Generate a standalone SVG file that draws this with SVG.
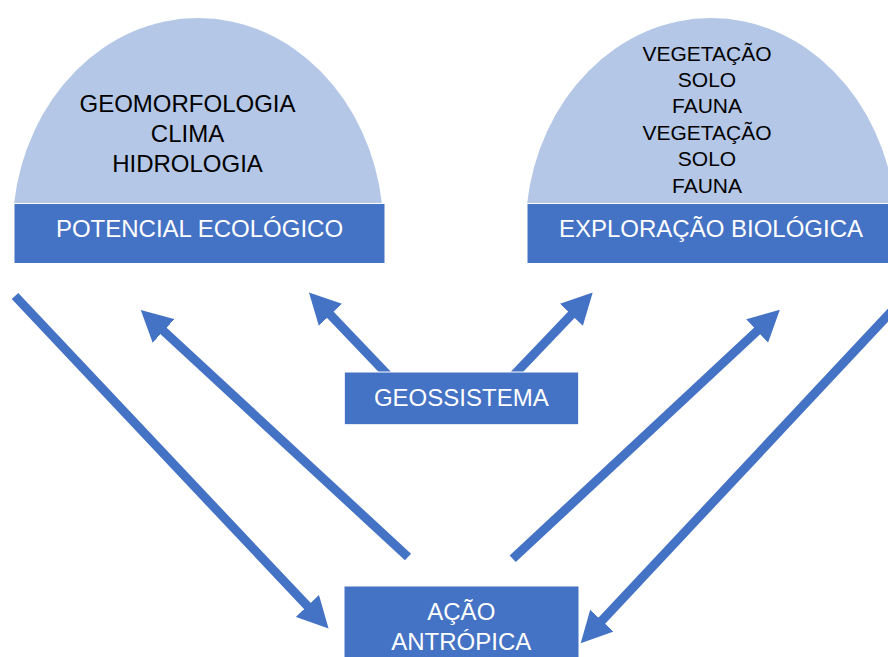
<svg xmlns="http://www.w3.org/2000/svg" width="888" height="657" viewBox="0 0 888 657">
<style>
  .dome { fill: #B4C7E7; }
  .box { fill: #4472C4; stroke: #FFFFFF; stroke-width: 1; }
  .dtxt { font-family: "Liberation Sans", Arial, sans-serif; font-size: 24px; fill: #000000; text-anchor: middle; }
  .dtxt2 { font-family: "Liberation Sans", Arial, sans-serif; font-size: 21px; fill: #000000; text-anchor: middle; }
  .ltxt { font-family: "Liberation Sans", Arial, sans-serif; font-size: 24px; fill: #FFFFFF; text-anchor: middle; }
  .arrow { stroke: #4472C4; stroke-width: 9; fill: none; stroke-linecap: butt; marker-end: url(#head); }
</style>
<defs>
  <marker id="head" markerUnits="userSpaceOnUse" markerWidth="32" markerHeight="32" viewBox="0 0 32 32" refX="1" refY="16" orient="auto">
    <path d="M0,0 L31,16 L0,32 Z" fill="#4472C4"/>
  </marker>
</defs>
<rect width="888" height="657" fill="#FFFFFF"/>
<g id="connectors">
  <line class="arrow" x1="15" y1="296" x2="308" y2="606.7"/>
  <line class="arrow" x1="408" y1="557" x2="162.8" y2="330.3"/>
  <line class="arrow" x1="389.1" y1="376.3" x2="329.7" y2="314.1"/>
  <line class="arrow" x1="512.6" y1="376.3" x2="572" y2="314.1"/>
  <line class="arrow" x1="512.7" y1="558.8" x2="757.9" y2="330.3"/>
  <line class="arrow" x1="905" y1="297" x2="601.2" y2="621.4"/>
</g>
<g id="potencial-ecologico">
  <path class="dome" d="M14,204 A185.5,213 0 0 1 382,204 Z"/>
  <text class="dtxt" x="187.5" y="112">GEOMORFOLOGIA</text>
  <text class="dtxt" x="187.5" y="142">CLIMA</text>
  <text class="dtxt" x="187.5" y="172">HIDROLOGIA</text>
  <rect class="box" x="14" y="203.5" width="371" height="60"/>
  <text class="ltxt" x="199.5" y="237">POTENCIAL ECOLÓGICO</text>
</g>
<g id="exploracao-biologica">
  <path class="dome" d="M527,204 A185.5,213 0 0 1 895,204 Z"/>
  <text class="dtxt2" x="707" y="60.5">VEGETAÇÃO</text>
  <text class="dtxt2" x="707" y="87">SOLO</text>
  <text class="dtxt2" x="707" y="113.3">FAUNA</text>
  <text class="dtxt2" x="707" y="139.7">VEGETAÇÃO</text>
  <text class="dtxt2" x="707" y="166">SOLO</text>
  <text class="dtxt2" x="707" y="192.5">FAUNA</text>
  <rect class="box" x="527" y="203.5" width="371" height="60"/>
  <text class="ltxt" x="711" y="237">EXPLORAÇÃO BIOLÓGICA</text>
</g>
<g id="geossistema">
  <rect class="box" x="344.3" y="372" width="234.4" height="52.7"/>
  <text class="ltxt" x="461.3" y="405.7">GEOSSISTEMA</text>
</g>
<g id="acao-antropica">
  <rect class="box" x="344" y="586" width="235" height="80"/>
  <text class="ltxt" x="461.3" y="620">AÇÃO</text>
  <text class="ltxt" x="461.3" y="650">ANTRÓPICA</text>
</g>
</svg>
